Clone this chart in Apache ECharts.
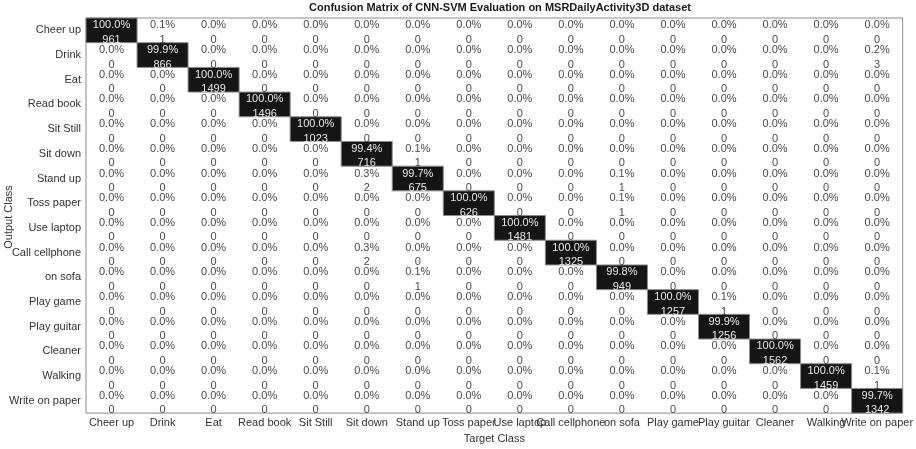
<!DOCTYPE html>
<html>
<head>
<meta charset="utf-8">
<script src="https://cdn.jsdelivr.net/npm/echarts@6/dist/echarts.min.js"></script>
<style>
  html, body { margin: 0; padding: 0; background: #fff; }
  #chart { width: 916px; height: 449px; }
</style>
</head>
<body>
<div id="chart"></div>
<script>
// Activity classes (same order for target columns and output rows)
const classNames = [
  'Cheer up', 'Drink', 'Eat', 'Read book', 'Sit Still', 'Sit down', 'Stand up',
  'Toss paper', 'Use laptop', 'Call cellphone', 'on sofa', 'Play game',
  'Play guitar', 'Cleaner', 'Walking', 'Write on paper'
];

// Sample counts: counts[outputRow][targetColumn]
const counts = [
  [961, 1, 0, 0, 0, 0, 0, 0, 0, 0, 0, 0, 0, 0, 0, 0],
  [0, 866, 0, 0, 0, 0, 0, 0, 0, 0, 0, 0, 0, 0, 0, 3],
  [0, 0, 1499, 0, 0, 0, 0, 0, 0, 0, 0, 0, 0, 0, 0, 0],
  [0, 0, 0, 1496, 0, 0, 0, 0, 0, 0, 0, 0, 0, 0, 0, 0],
  [0, 0, 0, 0, 1023, 0, 0, 0, 0, 0, 0, 0, 0, 0, 0, 0],
  [0, 0, 0, 0, 0, 716, 1, 0, 0, 0, 0, 0, 0, 0, 0, 0],
  [0, 0, 0, 0, 0, 2, 675, 0, 0, 0, 1, 0, 0, 0, 0, 0],
  [0, 0, 0, 0, 0, 0, 0, 626, 0, 0, 1, 0, 0, 0, 0, 0],
  [0, 0, 0, 0, 0, 0, 0, 0, 1481, 0, 0, 0, 0, 0, 0, 0],
  [0, 0, 0, 0, 0, 2, 0, 0, 0, 1325, 0, 0, 0, 0, 0, 0],
  [0, 0, 0, 0, 0, 0, 1, 0, 0, 0, 949, 0, 0, 0, 0, 0],
  [0, 0, 0, 0, 0, 0, 0, 0, 0, 0, 0, 1257, 1, 0, 0, 0],
  [0, 0, 0, 0, 0, 0, 0, 0, 0, 0, 0, 0, 1256, 0, 0, 0],
  [0, 0, 0, 0, 0, 0, 0, 0, 0, 0, 0, 0, 0, 1562, 0, 0],
  [0, 0, 0, 0, 0, 0, 0, 0, 0, 0, 0, 0, 0, 0, 1459, 1],
  [0, 0, 0, 0, 0, 0, 0, 0, 0, 0, 0, 0, 0, 0, 0, 1342]
];

const titleText = 'Confusion Matrix of CNN-SVM Evaluation on MSRDailyActivity3D dataset';

// Percentages are normalised per target column
const colTotals = classNames.map((_, c) => counts.reduce((s, row) => s + row[c], 0));

const cells = [];
counts.forEach((row, r) => {
  row.forEach((v, c) => {
    const pct = colTotals[c] ? (v / colTotals[c] * 100) : 0;
    cells.push([c, r, v, pct.toFixed(1) + '%']);
  });
});

const FONT = '"Liberation Sans", Arial, Helvetica, sans-serif';

const chart = echarts.init(document.getElementById('chart'), null, { renderer: 'canvas' });

chart.setOption({
  animation: false,
  backgroundColor: '#ffffff',
  grid: {
    left: 86, top: 18, width: 820, height: 399,
    show: true, borderColor: '#8c8c8c', borderWidth: 1, backgroundColor: 'transparent'
  },
  xAxis: {
    type: 'category',
    data: classNames,
    axisLine: { show: false },
    axisTick: { show: false },
    splitLine: { show: false },
    axisLabel: {
      interval: 0, margin: 4, fontSize: 11, color: '#333',
      fontFamily: FONT, hideOverlap: false
    },
    name: 'Target Class',
    nameLocation: 'middle',
    nameGap: 18,
    nameTextStyle: { fontSize: 11, color: '#333', fontFamily: FONT }
  },
  yAxis: {
    type: 'category',
    data: classNames,
    inverse: true,
    axisLine: { show: false },
    axisTick: { show: false },
    splitLine: { show: false },
    axisLabel: { interval: 0, margin: 5, fontSize: 11, color: '#333', fontFamily: FONT }
  },
  graphic: [
    {
      type: 'text', x: 500, y: 8,
      style: {
        text: titleText, align: 'center', verticalAlign: 'middle',
        fontSize: 11, fontWeight: 'bold', fill: '#1a1a1a', fontFamily: FONT
      }
    },
    {
      type: 'text', x: 9, y: 217, rotation: Math.PI / 2,
      style: {
        text: 'Output Class', align: 'center', verticalAlign: 'middle',
        fontSize: 11, fill: '#333', fontFamily: FONT
      }
    }
  ],
  series: [
    {
      // dark boxes on the diagonal (correct predictions)
      type: 'custom',
      z: 2,
      data: cells,
      renderItem: function (params, api) {
        const c = api.value(0), r = api.value(1);
        if (c !== r) return null;
        const p = api.coord([c, r]);
        const s = api.size([1, 1]);
        return {
          type: 'rect',
          shape: { x: p[0] - s[0] / 2, y: p[1] - s[1] / 2, width: s[0], height: s[1] },
          style: { fill: '#151515', stroke: '#8c8c8c', lineWidth: 1 }
        };
      }
    },
    {
      // percentage and count text in every cell
      type: 'custom',
      z: 3,
      data: cells,
      renderItem: function (params, api) {
        const c = api.value(0), r = api.value(1);
        const item = cells[params.dataIndex];
        const p = api.coord([c, r]);
        const diag = c === r;
        const fill = diag ? '#e6e6e6' : '#4a4a4a';
        return {
          type: 'group',
          children: [
            {
              type: 'text', x: p[0], y: p[1] - 5,
              style: {
                text: item[3], align: 'center', verticalAlign: 'middle',
                fontSize: 11, fontFamily: FONT, fill: fill
              }
            },
            {
              type: 'text', x: p[0], y: p[1] + 9.5,
              style: {
                text: String(item[2]), align: 'center', verticalAlign: 'middle',
                fontSize: 11, fontFamily: FONT, fill: fill
              }
            }
          ]
        };
      }
    }
  ]
});
</script>
</body>
</html>
